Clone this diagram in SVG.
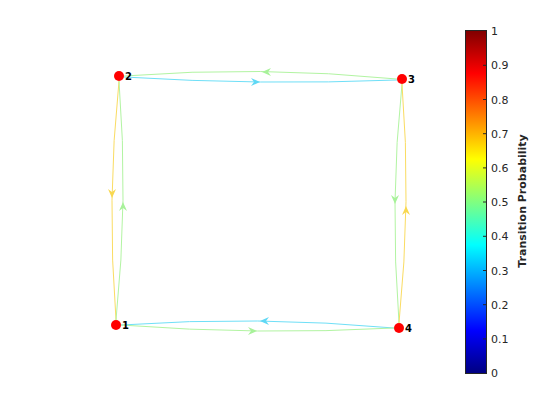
<svg xmlns="http://www.w3.org/2000/svg" xmlns:xlink="http://www.w3.org/1999/xlink" width="560" height="420" viewBox="0 0 560 420">
<style>
.e{fill:none;stroke-width:1}
.cy{stroke:#6fdff7}
.gr{stroke:#b2f4a2}
.ye{stroke:#fadc62}
.lbl{font-family:"DejaVu Sans","Liberation Sans",sans-serif;font-weight:bold;font-size:10px;fill:#000}
.tk{font-family:"DejaVu Sans","Liberation Sans",sans-serif;font-size:11px;fill:#262626}
.node{fill:#ff0000}
</style>
<defs>
<path id="ah" d="M0,0 L-9,-4 L-6,0 L-9,4 Z"/>
<linearGradient id="jet" x1="0" y1="0" x2="0" y2="1">
<stop offset="0" stop-color="#800000"/>
<stop offset="0.125" stop-color="#ff0000"/>
<stop offset="0.375" stop-color="#ffff00"/>
<stop offset="0.5" stop-color="#80ff80"/>
<stop offset="0.625" stop-color="#00ffff"/>
<stop offset="0.875" stop-color="#0000ff"/>
<stop offset="1" stop-color="#000080"/>
</linearGradient>
</defs>
<rect width="560" height="420" fill="#fff"/>
<g id="edges">
<path class="e cy" d="M124,77 Q260,85.5 397,80"/>
<use xlink:href="#ah" fill="#5fd8f5" transform="translate(260,82)"/>
<path class="e gr" d="M397,79 Q260,65.5 124,76"/>
<use xlink:href="#ah" fill="#a8f29a" transform="translate(262,72) rotate(180)"/>
<path class="e ye" d="M119,81 Q106.5,200 116,320"/>
<use xlink:href="#ah" fill="#f8d850" transform="translate(112,198) rotate(90)"/>
<path class="e gr" d="M116,320 Q128.5,200 119,81"/>
<use xlink:href="#ah" fill="#a8f29a" transform="translate(123,202) rotate(-90)"/>
<path class="e gr" d="M402,84 Q389.5,200 399,323"/>
<use xlink:href="#ah" fill="#a8f29a" transform="translate(395,204) rotate(90)"/>
<path class="e ye" d="M399,323 Q411.5,200 402,84"/>
<use xlink:href="#ah" fill="#f8d850" transform="translate(406,206) rotate(-90)"/>
<path class="e cy" d="M394,328 Q258,315.5 121,325"/>
<use xlink:href="#ah" fill="#5fd8f5" transform="translate(260,321) rotate(180)"/>
<path class="e gr" d="M121,325 Q258,335.5 394,328"/>
<use xlink:href="#ah" fill="#a8f29a" transform="translate(257,331)"/>
</g>
<g id="n1"><circle class="node" cx="116" cy="325" r="5"/><text class="lbl" x="122" y="329">1</text></g>
<g id="n2"><circle class="node" cx="119" cy="76" r="5"/><text class="lbl" x="125" y="80">2</text></g>
<g id="n3"><circle class="node" cx="402" cy="79" r="5"/><text class="lbl" x="408" y="83">3</text></g>
<g id="n4"><circle class="node" cx="399" cy="328" r="5"/><text class="lbl" x="405" y="332">4</text></g>
<g id="colorbar">
<rect x="465.5" y="30.5" width="21" height="343" fill="url(#jet)" stroke="#262626" stroke-width="1"/>
<g stroke="#262626" stroke-width="1">
<line x1="483" y1="65.3" x2="486" y2="65.3"/>
<line x1="483" y1="99.5" x2="486" y2="99.5"/>
<line x1="483" y1="133.7" x2="486" y2="133.7"/>
<line x1="483" y1="167.9" x2="486" y2="167.9"/>
<line x1="483" y1="202" x2="486" y2="202"/>
<line x1="483" y1="236.3" x2="486" y2="236.3"/>
<line x1="483" y1="270.5" x2="486" y2="270.5"/>
<line x1="483" y1="304.7" x2="486" y2="304.7"/>
<line x1="483" y1="338.9" x2="486" y2="338.9"/>
</g>
<text class="tk" x="491" y="35">1</text>
<text class="tk" x="491" y="69.3">0.9</text>
<text class="tk" x="491" y="103.5">0.8</text>
<text class="tk" x="491" y="137.7">0.7</text>
<text class="tk" x="491" y="171.9">0.6</text>
<text class="tk" x="491" y="206">0.5</text>
<text class="tk" x="491" y="240.3">0.4</text>
<text class="tk" x="491" y="274.5">0.3</text>
<text class="tk" x="491" y="308.7">0.2</text>
<text class="tk" x="491" y="342.9">0.1</text>
<text class="tk" x="491" y="377">0</text>
<text transform="translate(526,201) rotate(-90)" text-anchor="middle" font-family="DejaVu Sans,Liberation Sans,sans-serif" font-weight="bold" font-size="11" fill="#262626">Transition Probability</text>
</g>
</svg>
